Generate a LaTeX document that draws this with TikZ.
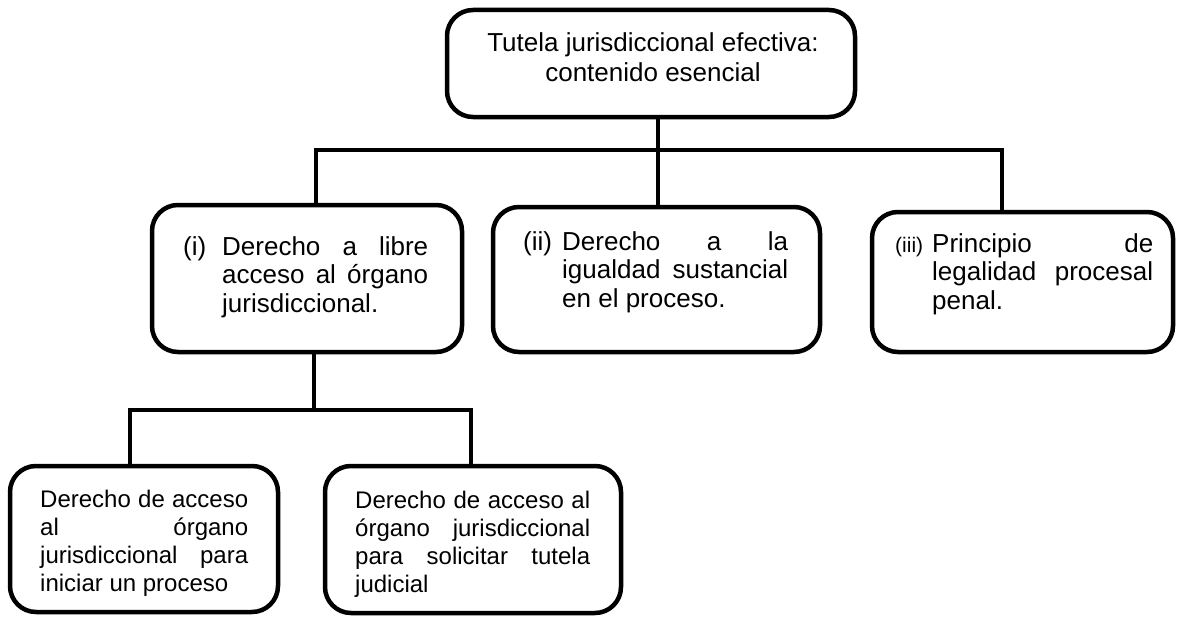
\documentclass[tikz,border=0pt]{standalone}
\usepackage{fontspec}
\setmainfont{Liberation Sans}
\newcommand\midfont{\fontsize{26}{28.5}\selectfont}
\newcommand\lowfont{\fontsize{24}{28}\selectfont}
\newcommand\jline[1]{\makebox[\linewidth][s]{#1}\par}
\tikzset{
  box/.style={draw, line width=4.5pt, rounded corners=26pt, inner sep=0pt},
  conn/.style={line width=4pt},
  txt/.style={anchor=base west, inner sep=0pt},
}
\begin{document}
\begin{tikzpicture}[x=1pt,y=-1pt]
\useasboundingbox (0,0) rectangle (1177,618);
% boxes
\node[box, minimum width=408pt, minimum height=107pt] (top) at (651,63.5) {};
\node[box, minimum width=310pt, minimum height=147pt] (b1) at (307,278.5) {};
\node[box, minimum width=327pt, minimum height=145pt] (b2) at (656.5,279.5) {};
\node[box, minimum width=301pt, minimum height=140pt] (b3) at (1022.5,282) {};
\node[box, minimum width=268pt, minimum height=146pt] (c1) at (144,539) {};
\node[box, minimum width=296pt, minimum height=147pt] (c2) at (473,539.5) {};
% junctions
\coordinate (hL) at (316,150);
\coordinate (hM) at (658,150);
\coordinate (hR) at (1002,150);
\coordinate (lM) at (314,410);
\coordinate (lL) at (130,410);
\coordinate (lR) at (471,410);
% connectors
\draw[conn] (top.south -| hM) -- (b2.north -| hM);
\draw[conn] (b1.north -| hL) -- (hL) -- (hR) -- (b3.north -| hR);
\draw[conn] (b1.south -| lM) -- (lM);
\draw[conn] (c1.north -| lL) -- (lL) -- (lR) -- (c2.north -| lR);
% texts
\node[anchor=base, inner sep=0pt] (ttop) at (653,52)
  {\parbox[t]{400pt}{\centering\fontsize{26}{30}\selectfont Tutela jurisdiccional efectiva:\\contenido esencial}};
\node[txt] (t1) at (222,255)
  {\parbox[t]{206pt}{\midfont\noindent\llap{\makebox[39pt][l]{(i)}}\jline{Derecho a libre}\jline{acceso al órgano}jurisdiccional.}};
\node[txt] (t2) at (562,250)
  {\parbox[t]{226pt}{\midfont\noindent\llap{\makebox[39pt][l]{(ii)}}\jline{Derecho a la}\jline{igualdad sustancial}en el proceso.}};
\node[txt] (t3) at (932,252)
  {\parbox[t]{221pt}{\midfont\noindent\llap{\makebox[37pt][l]{\fontsize{21}{28}\selectfont(iii)}}\jline{Principio de}\jline{legalidad procesal}penal.}};
\node[txt] (t4) at (40,507)
  {\parbox[t]{208pt}{\lowfont\jline{Derecho de acceso}\jline{al órgano}\jline{jurisdiccional para}iniciar un proceso}};
\node[txt] (t5) at (355,508)
  {\parbox[t]{235pt}{\lowfont\jline{Derecho de acceso al}\jline{órgano jurisdiccional}\jline{para solicitar tutela}judicial}};
\end{tikzpicture}
\end{document}
